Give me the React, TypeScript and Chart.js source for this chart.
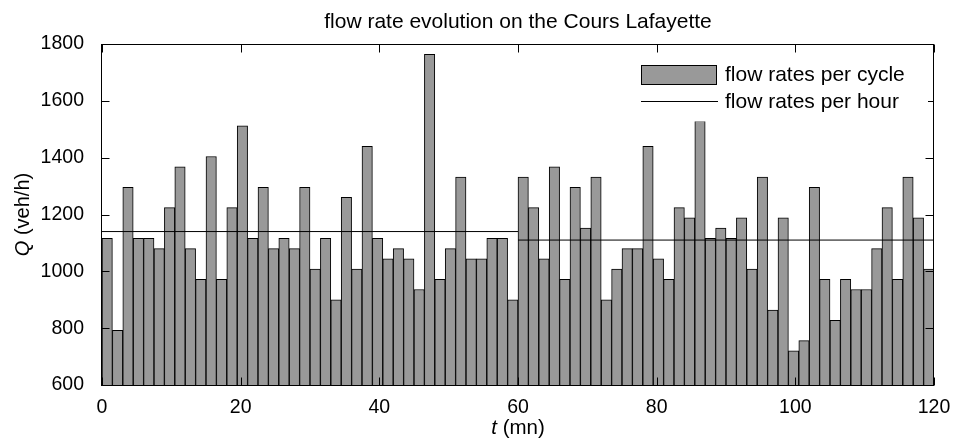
import React, { useEffect, useRef } from "react";
import { Chart, registerables } from "chart.js";

Chart.register(...registerables);

// ---------- data ----------
const CYCLE_MIN = 1.5; // cycle duration in minutes (bar width)
const cycleFlow = [
  1116, 792, 1296, 1116, 1116, 1080, 1224, 1368, 1080, 972, 1404, 972, 1224, 1512, 1116, 1296, 1080, 1116, 1080, 1296,
  1008, 1116, 900, 1260, 1008, 1440, 1116, 1044, 1080, 1044, 936, 1764, 972, 1080, 1332, 1044, 1044, 1116, 1116, 900,
  1332, 1224, 1044, 1368, 972, 1296, 1152, 1332, 900, 1008, 1080, 1080, 1440, 1044, 972, 1224, 1188, 1530, 1116, 1152,
  1116, 1188, 1008, 1332, 864, 1188, 720, 756, 1296, 972, 828, 972, 936, 936, 1080, 1224, 972, 1332, 1188, 1008,
];
const hourStart = [0, 60];
const hourEnd = [60, 120];
const hourFlow = [1140, 1110];
const xTicks = [0, 20, 40, 60, 80, 100, 120];
const yTicks = [600, 800, 1000, 1200, 1400, 1600, 1800];
const TITLE = "flow rate evolution on the Cours Lafayette";
const X_LABEL = ["t", " (mn)"];
const Y_LABEL = ["Q", " (veh/h)"];
const LEGEND_LABELS = ["flow rates per cycle", "flow rates per hour"];

const FONT = '"Liberation Sans", Arial, Helvetica, sans-serif';

const framePlugin = {
  id: "frame",
  afterDatasetsDraw(chart: any) {
    const { ctx, chartArea, scales } = chart;
    const { left, right, top, bottom } = chartArea;
    const L = Math.round(left) - 0.5;
    const R = Math.round(right) - 0.5;
    const T = Math.round(top) + 0.5;
    const B = Math.round(bottom) + 0.5;
    ctx.save();
    ctx.strokeStyle = "#000";
    ctx.lineWidth = 1;
    ctx.strokeRect(L, T, R - L, B - T);
    const tl = 8;
    ctx.beginPath();
    xTicks.forEach((v) => {
      const px = Math.round(scales.x.getPixelForValue(v)) + 0.5;
      ctx.moveTo(px, T);
      ctx.lineTo(px, T + tl);
      ctx.moveTo(px, B);
      ctx.lineTo(px, B - tl);
    });
    yTicks.forEach((v) => {
      const py = Math.round(scales.y.getPixelForValue(v)) + 0.5;
      ctx.moveTo(L, py);
      ctx.lineTo(L + tl, py);
      ctx.moveTo(R, py);
      ctx.lineTo(R - tl, py);
    });
    ctx.stroke();
    ctx.restore();
  },
};

function drawMixed(ctx: CanvasRenderingContext2D, parts: string[], size: number, x: number, y: number) {
  ctx.font = `italic ${size}px ${FONT}`;
  const w1 = ctx.measureText(parts[0]).width;
  ctx.font = `${size}px ${FONT}`;
  const w2 = ctx.measureText(parts[1]).width;
  const start = x - (w1 + w2) / 2;
  ctx.textAlign = "left";
  ctx.font = `italic ${size}px ${FONT}`;
  ctx.fillText(parts[0], start, y);
  ctx.font = `${size}px ${FONT}`;
  ctx.fillText(parts[1], start + w1, y);
}

const textPlugin = {
  id: "texts",
  afterDraw(chart: any) {
    const { ctx, chartArea } = chart;
    const { left, right, top, bottom } = chartArea;
    const cx = (left + right) / 2;
    const cy = (top + bottom) / 2;
    ctx.save();
    ctx.fillStyle = "#000";
    ctx.textBaseline = "alphabetic";
    // title
    ctx.font = `21px ${FONT}`;
    ctx.textAlign = "center";
    ctx.fillText(TITLE, cx, 28);
    // x label
    drawMixed(ctx, X_LABEL, 20.5, cx, 433.5);
    // y label
    ctx.save();
    ctx.translate(29, cy);
    ctx.rotate(-Math.PI / 2);
    drawMixed(ctx, Y_LABEL, 20, 0, 0);
    ctx.restore();

    // legend
    const bar = chart.data.datasets.find((d: any) => d.type === "bar");
    const line = chart.data.datasets.find((d: any) => d.type === "line");
    ctx.fillStyle = "#fff";
    ctx.fillRect(632, 55, 296, 66.5);
    // patch
    ctx.fillStyle = bar.backgroundColor;
    ctx.fillRect(641, 65, 76, 19);
    ctx.strokeStyle = bar.borderColor;
    ctx.lineWidth = 1;
    ctx.strokeRect(641.5, 65.5, 75, 19);
    // line sample
    ctx.strokeStyle = line.borderColor;
    ctx.lineWidth = line.borderWidth;
    ctx.beginPath();
    ctx.moveTo(641, 101.5);
    ctx.lineTo(718, 101.5);
    ctx.stroke();
    ctx.fillStyle = "#000";
    ctx.font = `21px ${FONT}`;
    ctx.textAlign = "left";
    ctx.textBaseline = "middle";
    ctx.fillText(LEGEND_LABELS[0], 725, 75.5);
    ctx.fillText(LEGEND_LABELS[1], 725, 102);
    ctx.restore();
  },
};

export default function App() {
  const ref = useRef<HTMLCanvasElement | null>(null);
  useEffect(() => {
    if (!ref.current) return;
    const lineSets = hourFlow.map((v, i) => ({
      type: "line" as const,
      label: LEGEND_LABELS[1],
      data: [
        { x: hourStart[i], y: v },
        { x: hourEnd[i], y: v },
      ],
      borderColor: "#000",
      backgroundColor: "#000",
      borderWidth: 1,
      pointRadius: 0,
      fill: false,
      order: 0,
    }));
    const chart = new Chart(ref.current, {
      type: "bar",
      data: {
        datasets: [
          ...lineSets,
          {
            type: "bar" as const,
            label: LEGEND_LABELS[0],
            data: cycleFlow.map((v, i) => ({ x: (i + 0.5) * CYCLE_MIN, y: v })),
            backgroundColor: "#999999",
            borderColor: "#000",
            borderWidth: 1,
            barPercentage: 1,
            categoryPercentage: 1,
            order: 1,
          },
        ] as any,
      },
      options: {
        responsive: false,
        animation: false,
        devicePixelRatio: 1,
        layout: { padding: { top: 44, right: 22, left: 0, bottom: 0 } },
        plugins: {
          legend: { display: false },
          title: { display: false },
          tooltip: { enabled: false },
        },
        scales: {
          x: {
            type: "linear",
            min: 0,
            max: 120,
            offset: false,
            grid: { display: false, offset: false },
            border: { display: false },
            afterBuildTicks: (s: any) => {
              s.ticks = xTicks.map((v) => ({ value: v }));
            },
            ticks: {
              color: "#000",
              font: { family: FONT, size: 19.5 },
              padding: 3,
              maxRotation: 0,
              autoSkip: false,
              callback: (v: any) => String(v),
            },
            afterFit: (s: any) => {
              s.height = 61;
              s.paddingLeft = 0;
              s.paddingRight = 0;
            },
          },
          y: {
            type: "linear",
            min: 600,
            max: 1800,
            grid: { display: false },
            border: { display: false },
            afterBuildTicks: (s: any) => {
              s.ticks = yTicks.map((v) => ({ value: v }));
            },
            ticks: {
              color: "#000",
              font: { family: FONT, size: 19.5 },
              padding: 10,
              callback: (v: any) => String(v),
            },
            afterFit: (s: any) => {
              s.width = 102;
              s.paddingTop = 0;
              s.paddingBottom = 0;
            },
          },
        },
      } as any,
      plugins: [framePlugin, textPlugin],
    });
    return () => chart.destroy();
  }, []);
  return (
    <div style={{ position: "fixed", left: 0, top: 0, width: 956, height: 446, background: "#fff" }}>
      <canvas ref={ref} width={956} height={446} style={{ display: "block", width: 956, height: 446 }} />
    </div>
  );
}
